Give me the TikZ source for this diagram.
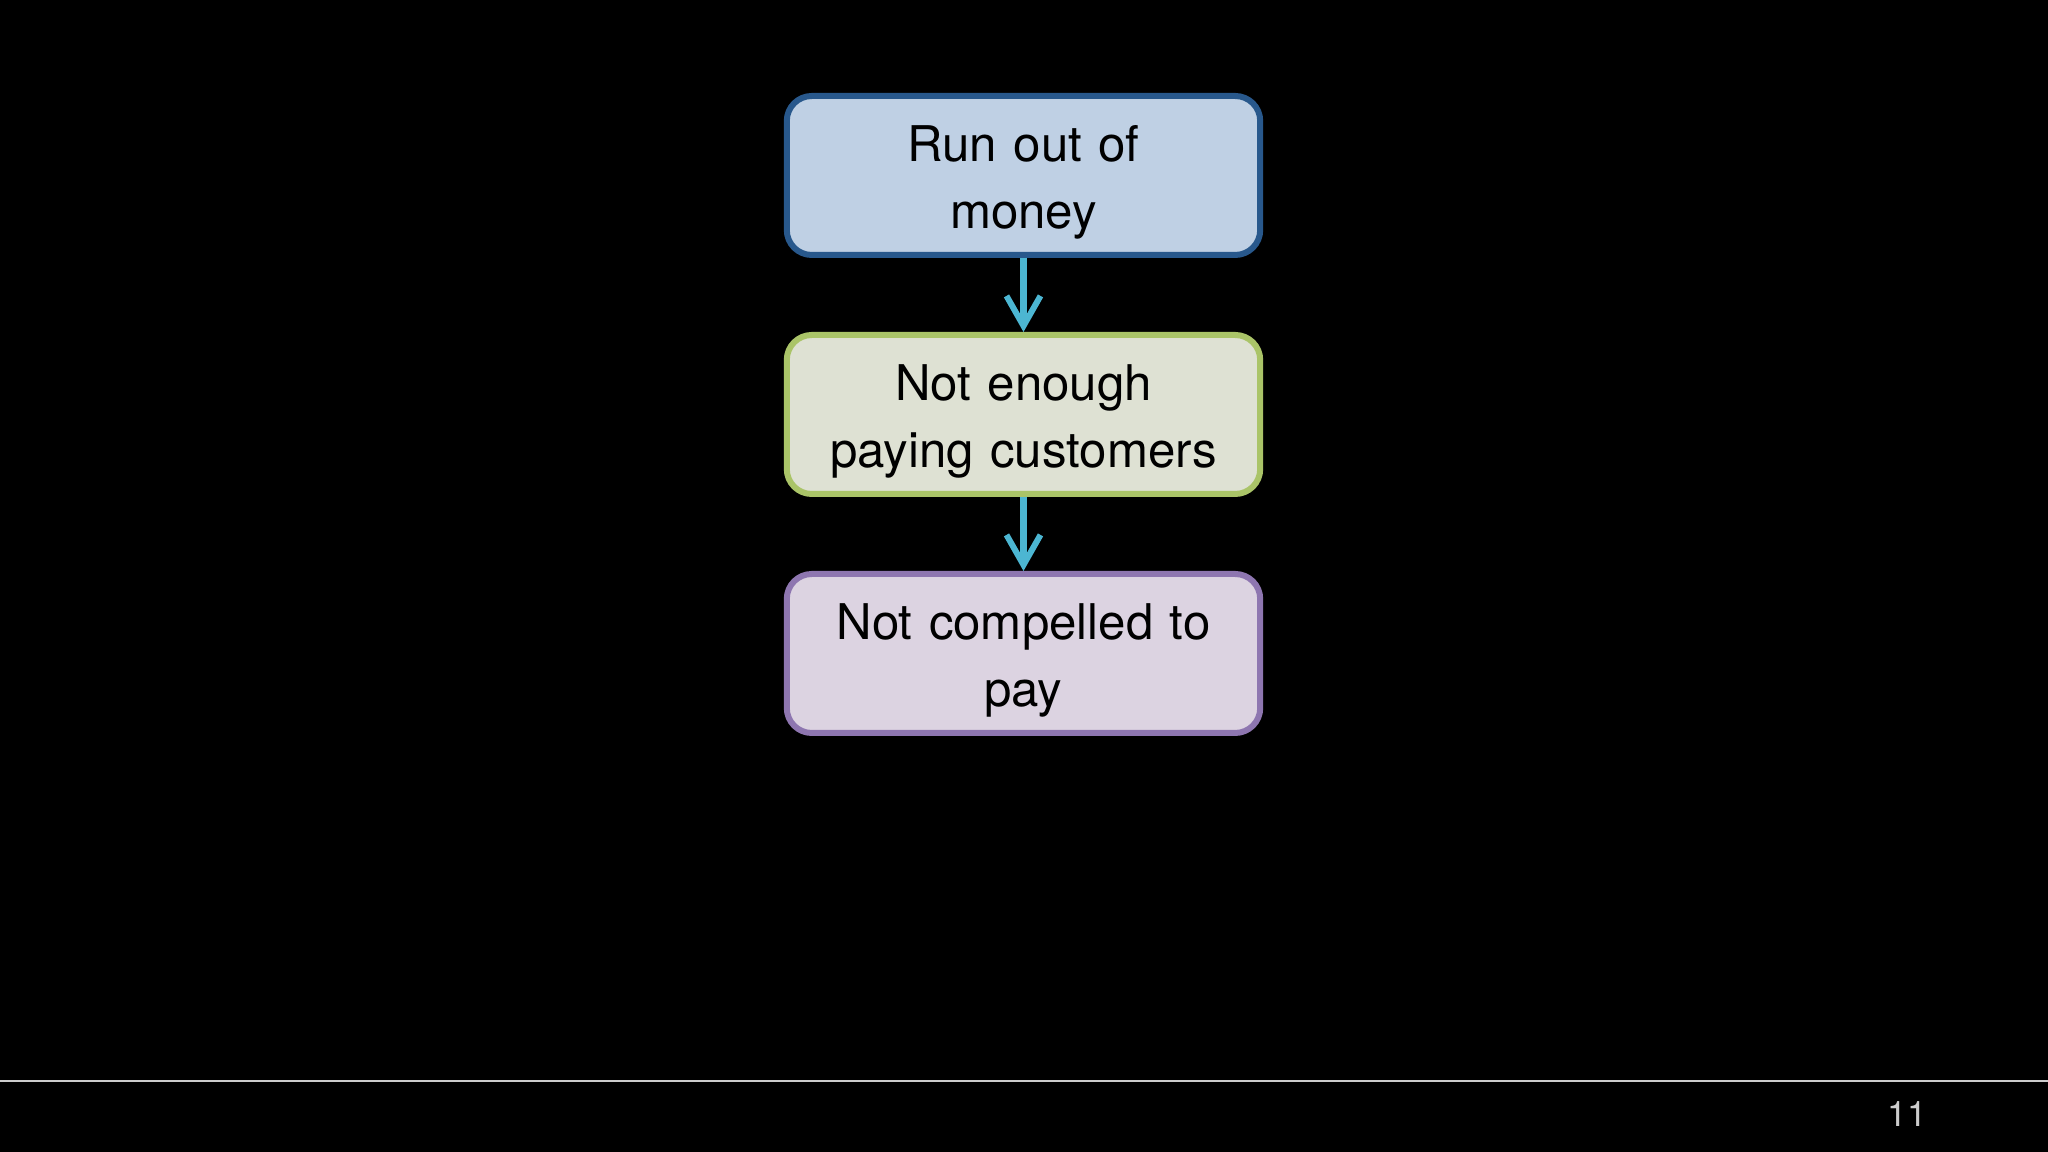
\documentclass[tikz,border=0pt]{standalone}
\usepackage{fontspec}
\setmainfont{TeX Gyre Heros}
\usetikzlibrary{positioning,arrows.meta}
\definecolor{moneyfill}{RGB}{191,208,228}
\definecolor{moneyline}{RGB}{40,88,140}
\definecolor{custfill}{RGB}{222,225,211}
\definecolor{custline}{RGB}{170,196,104}
\definecolor{payfill}{RGB}{220,211,225}
\definecolor{payline}{RGB}{142,118,176}
\definecolor{flow}{RGB}{76,182,210}
\tikzset{
  cause/.style={draw, rounded corners=0.25cm, line width=0.06cm,
    minimum width=4.67cm, minimum height=1.59cm, text width=4.5cm,
    align=center, font=\fontsize{14}{19}\selectfont, text height=0.5cm},
  why/.style={-{Straight Barb[length=0.3cm,width=0.34cm,line width=0.06cm]},
    draw=flow, line width=0.07cm}
}
\begin{document}
\begin{tikzpicture}
      \fill[black] (0,0) rectangle (20.48,11.52);
      \useasboundingbox (0,0) rectangle (20.48,11.52);
      \node[cause, fill=moneyfill, draw=moneyline] (money) at (10.235,9.765)
        {Run out of\\money};
      \node[cause, fill=custfill, draw=custline, below=0.74cm of money] (cust)
        {Not enough\\paying customers};
      \node[cause, fill=payfill, draw=payline, below=0.74cm of cust] (pay)
        {Not compelled to\\pay};
      \begin{scope}[why]
        \draw (money) to (cust);
        \draw (cust) to (pay);
      \end{scope}
      \coordinate (ruleL) at (0,0.71);
      \coordinate (ruleR) at (20.48,0.71);
      \draw[white!80!black, line width=0.4pt] (ruleL) -- (ruleR);
      \node[text=white!80!black, font=\fontsize{10}{12}\selectfont] (page) at (19.07,0.38) {11};
    \end{tikzpicture}
\end{document}
